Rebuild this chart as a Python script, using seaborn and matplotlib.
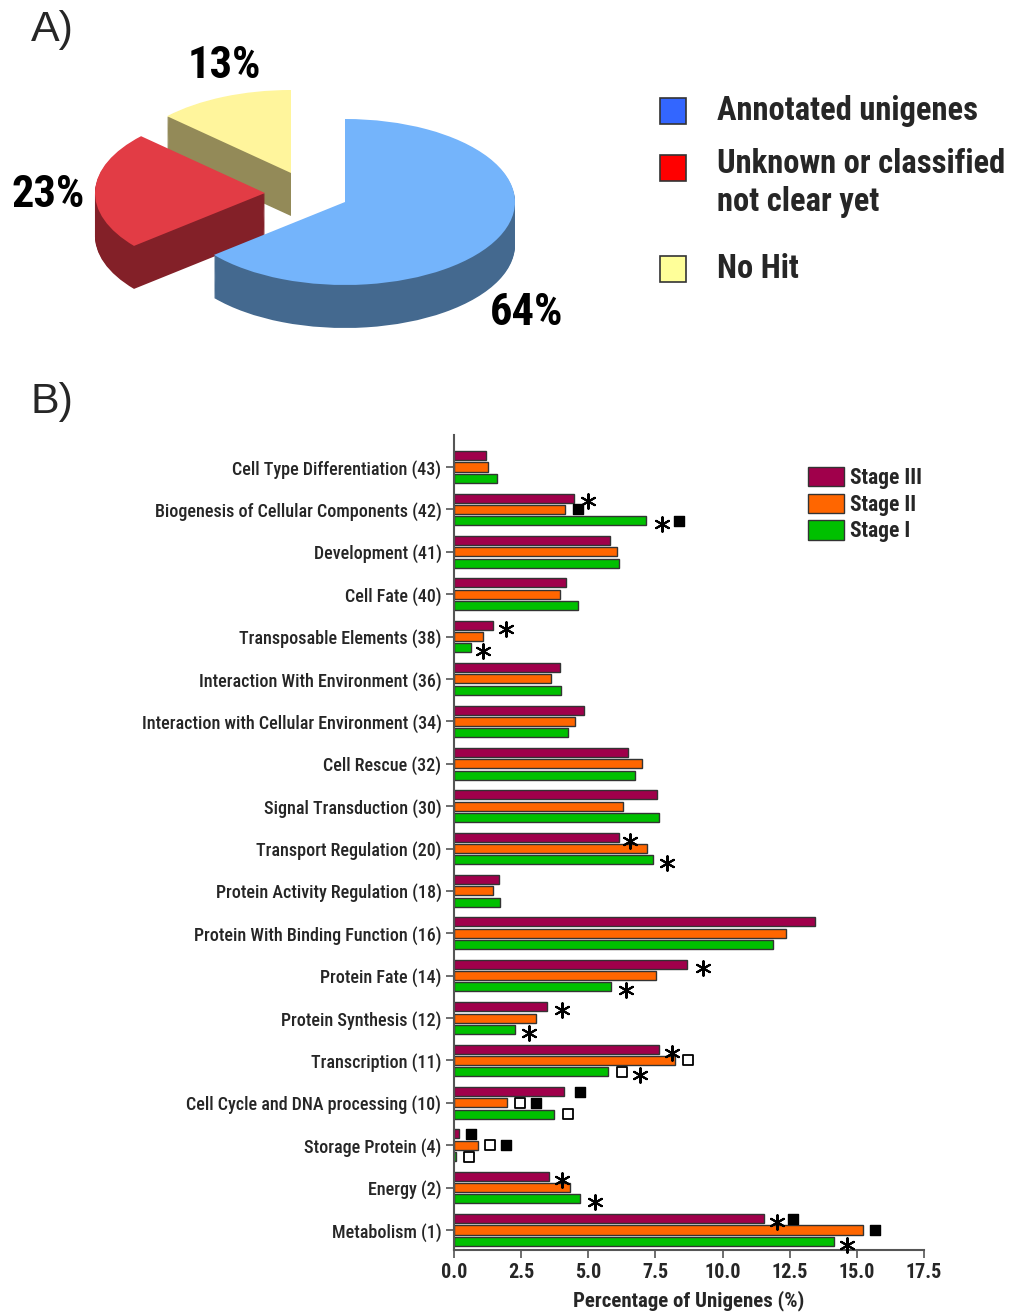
import numpy as np
import pandas as pd
import matplotlib
matplotlib.use("Agg")
import matplotlib.pyplot as plt
from matplotlib.patches import Patch, Rectangle
import seaborn as sns

# ---------------- data ----------------
categories = [
    "Cell Type Differentiation (43)",
    "Biogenesis of Cellular Components (42)",
    "Development (41)",
    "Cell Fate (40)",
    "Transposable Elements (38)",
    "Interaction With Environment (36)",
    "Interaction with Cellular Environment (34)",
    "Cell Rescue (32)",
    "Signal Transduction (30)",
    "Transport Regulation (20)",
    "Protein Activity Regulation (18)",
    "Protein With Binding Function (16)",
    "Protein Fate (14)",
    "Protein Synthesis (12)",
    "Transcription (11)",
    "Cell Cycle and DNA processing (10)",
    "Storage Protein (4)",
    "Energy (2)",
    "Metabolism (1)",
]
stage3 = [1.18, 4.45, 5.80, 4.16, 1.45, 3.94, 4.83, 6.47, 7.55, 6.13,
          1.66, 13.46, 8.66, 3.46, 7.62, 4.08, 0.19, 3.54, 11.56]
stage2 = [1.25, 4.13, 6.08, 3.94, 1.08, 3.60, 4.50, 6.99, 6.28, 7.17,
          1.44, 12.37, 7.53, 3.05, 8.24, 1.97, 0.90, 4.31, 15.24]
stage1 = [1.59, 7.14, 6.15, 4.60, 0.62, 3.98, 4.24, 6.73, 7.62, 7.42,
          1.70, 11.86, 5.86, 2.27, 5.75, 3.71, 0.06, 4.71, 14.15]
stages = ["Stage III", "Stage II", "Stage I"]
stage_colors = ["#a0004b", "#ff6600", "#00c000"]

xticks = [0.0, 2.5, 5.0, 7.5, 10.0, 12.5, 15.0, 17.5]

# significance marks: category, stage row, x value, symbol
ann_category = [
    "Biogenesis of Cellular Components (42)", "Biogenesis of Cellular Components (42)",
    "Biogenesis of Cellular Components (42)", "Biogenesis of Cellular Components (42)",
    "Transposable Elements (38)", "Transposable Elements (38)",
    "Transport Regulation (20)", "Transport Regulation (20)",
    "Protein Fate (14)", "Protein Fate (14)",
    "Protein Synthesis (12)", "Protein Synthesis (12)",
    "Transcription (11)", "Transcription (11)", "Transcription (11)", "Transcription (11)",
    "Cell Cycle and DNA processing (10)", "Cell Cycle and DNA processing (10)",
    "Cell Cycle and DNA processing (10)", "Cell Cycle and DNA processing (10)",
    "Storage Protein (4)", "Storage Protein (4)", "Storage Protein (4)", "Storage Protein (4)",
    "Energy (2)", "Energy (2)",
    "Metabolism (1)", "Metabolism (1)", "Metabolism (1)", "Metabolism (1)",
]
ann_stage = [
    "Stage III", "Stage II", "Stage I", "Stage I",
    "Stage III", "Stage I",
    "Stage III", "Stage I",
    "Stage III", "Stage I",
    "Stage III", "Stage I",
    "Stage III", "Stage II", "Stage I", "Stage I",
    "Stage III", "Stage II", "Stage II", "Stage I",
    "Stage III", "Stage II", "Stage II", "Stage I",
    "Stage III", "Stage I",
    "Stage III", "Stage III", "Stage II", "Stage I",
]
ann_x = [
    4.98, 4.60, 7.76, 8.39,
    1.93, 1.07,
    6.54, 7.94,
    9.27, 6.42,
    4.03, 2.80,
    8.12, 8.71, 6.27, 6.94,
    4.70, 2.46, 3.06, 4.26,
    0.64, 1.35, 1.94, 0.55,
    4.03, 5.24,
    12.03, 12.64, 15.68, 14.62,
]
ann_symbol = [
    "star", "fill", "star", "fill",
    "star", "star",
    "star", "star",
    "star", "star",
    "star", "star",
    "star", "open", "open", "star",
    "fill", "open", "fill", "open",
    "fill", "open", "fill", "open",
    "star", "star",
    "star", "fill", "fill", "star",
]

pie_names = ["Annotated unigenes", "Unknown or classified\nnot clear yet", "No Hit"]
pie_values = [64, 23, 13]
pie_pct = ["64%", "23%", "13%"]
pie_top_colors = ["#74b4fb", "#e23c45", "#fff59c"]
pie_side_colors = ["#44698f", "#832028", "#938a58"]
pie_legend_colors = ["#3366ff", "#ff0000", "#ffff99"]

# ---------------- style ----------------
sns.set_theme(style="white")
NARROW = ["Roboto Condensed", "Archivo Narrow", "DejaVu Sans"]
plt.rcParams["font.family"] = NARROW
plt.rcParams["font.stretch"] = "condensed"

W, H = 1028, 1316
fig = plt.figure(figsize=(W / 100, H / 100), dpi=100)


def fx(x):
    return x / W


def fy(y):
    return 1 - y / H


# ---------------- panel A: pseudo-3D pie ----------------
axA = fig.add_axes([0, fy(340), fx(640), 340 / H])
rx, ry = 170.0, 83.0
cx, cy = 345.0, 202.0
depth = 43.0 / ry
offsets = [(0.0, 0.0), (-80 / rx, 9 / ry), (-54 / rx, 29 / ry)]
n_layers = 45
for k in range(n_layers + 1):
    z = -depth + depth * k / n_layers
    top = k == n_layers
    cols = pie_top_colors if top else pie_side_colors
    wedges, _ = axA.pie(pie_values, startangle=90, counterclock=False, colors=cols,
                        radius=1.0, wedgeprops=dict(linewidth=0))
    for i, w in enumerate(wedges):
        w.set_center((offsets[i][0], offsets[i][1] + z))
        w.set_zorder(i * -10 + 50 + k * 0.01)
axA.set_aspect("auto")
axA.set_xlim(-cx / rx, (640 - cx) / rx)
axA.set_ylim(-(340 - cy) / ry, cy / ry)
axA.axis("off")

pct_pos = [(527, 313), (48, 195), (224, 66)]
for lab, (px_, py_) in zip(pie_pct, pct_pos):
    fig.text(fx(px_), fy(py_), lab, fontsize=32, fontweight="bold",
             ha="center", va="center", color="black")

fig.text(fx(52), fy(30), "A)", fontsize=31, ha="center", va="center",
         family=["Liberation Sans", "DejaVu Sans"], stretch="normal")
fig.text(fx(52), fy(402), "B)", fontsize=31, ha="center", va="center",
         family=["Liberation Sans", "DejaVu Sans"], stretch="normal")

leg_rows = [111, 168, 269]
for name, col, yy in zip(pie_names, pie_legend_colors, leg_rows):
    fig.patches.append(Rectangle((fx(660), fy(yy + 13)), 26 / W, 26 / H,
                                 transform=fig.transFigure, facecolor=col,
                                 edgecolor="#333333", linewidth=1.2))
    if "\n" in name:
        fig.text(fx(717), fy(yy - 20), name, fontsize=23.5, fontweight="bold",
                 ha="left", va="top", linespacing=1.22)
    else:
        fig.text(fx(717), fy(yy), name, fontsize=23.5, fontweight="bold",
                 ha="left", va="center")

# ---------------- panel B: grouped bars ----------------
axB = fig.add_axes([fx(454), fy(1250), fx(924) - fx(454), (1250 - 435) / H])
df = pd.DataFrame({
    "category": categories * 3,
    "stage": [s for s in stages for _ in categories],
    "value": stage3 + stage2 + stage1,
})
sns.barplot(data=df, x="value", y="category", hue="stage", order=categories,
            hue_order=stages, palette=dict(zip(stages, stage_colors)),
            orient="h", width=0.8, gap=0.2, edgecolor="#333333", linewidth=1.0,
            saturation=1, errorbar=None, ax=axB)

row_off = {"Stage III": -0.8 / 3, "Stage II": 0.0, "Stage I": 0.8 / 3}
cat_idx = {c: i for i, c in enumerate(categories)}
for c, s, x, sym in zip(ann_category, ann_stage, ann_x, ann_symbol):
    y = cat_idx[c] + row_off[s]
    if sym == "star":
        axB.scatter([x], [y + 0.08], marker=(6, 2, 0), s=110, linewidths=1.5,
                    color="black", zorder=5, clip_on=False)
    elif sym == "fill":
        axB.scatter([x], [y], marker="s", s=60, facecolor="black",
                    edgecolor="black", linewidths=1.0, zorder=5, clip_on=False)
    else:
        axB.scatter([x], [y], marker="s", s=55, facecolor="white",
                    edgecolor="black", linewidths=1.3, zorder=5, clip_on=False)

px_per_cat = (1230 - 467) / 18
axB.set_ylim((1250 - 467) / px_per_cat, (435 - 467) / px_per_cat)
axB.set_xlim(0, 17.5)
axB.set_xticks(xticks)
axB.set_xticklabels([f"{v:.1f}" for v in xticks], fontsize=14.5, fontweight="bold")
axB.set_yticks(range(len(categories)))
axB.set_yticklabels(categories, fontsize=13, fontweight="medium")
axB.set_ylabel("")
axB.set_xlabel("Percentage of Unigenes (%)", fontsize=15, fontweight="bold", labelpad=6)
for side in ["top", "right"]:
    axB.spines[side].set_visible(False)
for side in ["left", "bottom"]:
    axB.spines[side].set_color("#555555")
    axB.spines[side].set_linewidth(1.5)
axB.tick_params(axis="both", direction="out", length=6, width=1.2, color="#555555",
                left=True, bottom=True, pad=3)

if axB.get_legend() is not None:
    axB.get_legend().remove()
handles = [Patch(facecolor=c, edgecolor="#333333", linewidth=1.0) for c in stage_colors]
axB.legend(handles, stages, loc="upper left",
           bbox_to_anchor=((808 - 454) / 470, (1250 - 467) / 815),
           frameon=False, prop=dict(weight="bold", size=15.5),
           handlelength=1.65, handleheight=1.0, labelspacing=0.22,
           handletextpad=0.3, borderaxespad=0, borderpad=0)

fig.savefig("out.png", dpi=100)
